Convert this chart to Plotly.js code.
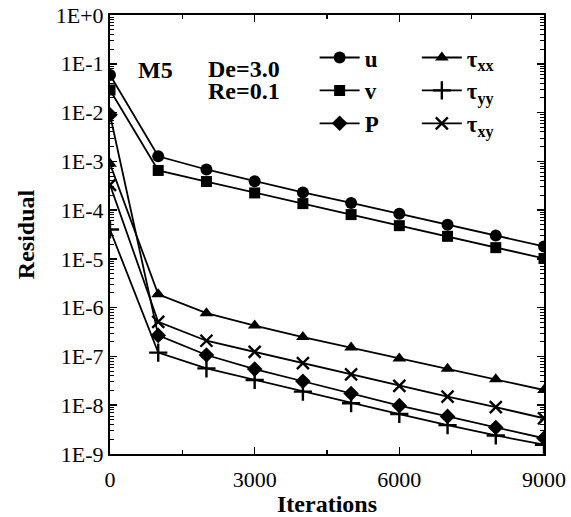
<!DOCTYPE html>
<html>
<head>
<meta charset="utf-8">
<script src="https://cdn.plot.ly/plotly-3.0.1.min.js"></script>
<style>html,body{margin:0;padding:0;background:#fff;}#chart{width:571px;height:517px;}</style>
</head>
<body>
<div id="chart"></div>
<script>
const iterations = [0, 1000, 2000, 3000, 4000, 5000, 6000, 7000, 8000, 9000];
const resU   = [5.9e-2, 1.27e-3, 6.8e-4, 3.9e-4, 2.3e-4, 1.4e-4, 8.4e-5, 5.0e-5, 3.0e-5, 1.8e-5];
const resV   = [2.9e-2, 6.5e-4, 3.85e-4, 2.25e-4, 1.36e-4, 8.1e-5, 4.8e-5, 2.9e-5, 1.7e-5, 1.02e-5];
const resP   = [9.0e-3, 2.7e-7, 1.07e-7, 5.5e-8, 3.1e-8, 1.74e-8, 9.8e-9, 5.9e-9, 3.5e-9, 2.1e-9];
const resTxx = [8.9e-4, 1.88e-6, 7.7e-7, 4.3e-7, 2.5e-7, 1.52e-7, 9.1e-8, 5.6e-8, 3.4e-8, 2.05e-8];
const resTyy = [4.0e-5, 1.2e-7, 5.7e-8, 3.3e-8, 1.9e-8, 1.1e-8, 6.6e-9, 3.9e-9, 2.4e-9, 1.55e-9];
const resTxy = [3.3e-4, 5.1e-7, 2.1e-7, 1.24e-7, 7.3e-8, 4.3e-8, 2.5e-8, 1.5e-8, 9.1e-9, 5.4e-9];

const seriesNames = ['u', 'v', 'P', 'τ<sub>xx</sub>', 'τ<sub>yy</sub>', 'τ<sub>xy</sub>'];
const yTickVals = [1, 1e-1, 1e-2, 1e-3, 1e-4, 1e-5, 1e-6, 1e-7, 1e-8, 1e-9];
const yTickText = ['1E+0', '1E-1', '1E-2', '1E-3', '1E-4', '1E-5', '1E-6', '1E-7', '1E-8', '1E-9'];
const xTickVals = [0, 3000, 6000, 9000];
const xTickText = ['0', '3000', '6000', '9000'];
const annoTexts = ['M5', 'De=3.0', 'Re=0.1'];

const serif = 'Liberation Serif, Times New Roman, serif';
const seriesY = [resU, resV, resP, resTxx, resTyy, resTxy];
const symbols = ['circle', 'square', 'diamond', 'triangle-up', 'cross-thin', 'x-thin'];
const sizes = [12, 11, 12, 12, 13, 12];
const legends = ['legend', 'legend', 'legend', 'legend2', 'legend2', 'legend2'];

const traces = seriesY.map((ys, i) => ({
  x: iterations, y: ys, name: seriesNames[i], type: 'scatter', mode: 'lines+markers',
  line: {color: '#000', width: 1.8},
  marker: {symbol: symbols[i], size: sizes[i], color: '#000', line: {color: '#000', width: (i >= 4 ? 2.4 : 0)}},
  legend: legends[i], legendgroup: 'g' + i
}));

// minor log ticks (style only)
const minorVals = [];
for (let d = -9; d < 0; d++) for (let m = 2; m <= 9; m++) minorVals.push(m * Math.pow(10, d));

const legendStyle = {
  yanchor: 'top', xanchor: 'left',
  bgcolor: 'rgba(0,0,0,0)', borderwidth: 0, itemwidth: 40,
  font: {family: serif, size: 23, color: '#000', weight: 'bold'},
  tracegroupgap: 0, traceorder: 'normal'
};

const layout = {
  width: 571, height: 517,
  margin: {l: 110, r: 27, t: 15, b: 63},
  paper_bgcolor: '#fff', plot_bgcolor: '#fff',
  font: {family: serif, color: '#000', size: 22},
  showlegend: true,
  xaxis: {
    range: [0, 9000], tickmode: 'array', tickvals: xTickVals, ticktext: xTickText,
    ticks: 'inside', ticklen: 7, tickwidth: 1.5, tickcolor: '#000',
    minor: {tickmode: 'linear', tick0: 0, dtick: 1500, ticks: 'inside', ticklen: 4, tickwidth: 1.5, tickcolor: '#000', showgrid: false},
    showline: true, linewidth: 2, linecolor: '#000', mirror: 'allticks',
    showgrid: false, zeroline: false,
    ticklabelstandoff: 5,
    tickfont: {family: serif, size: 22, color: '#000'},
    title: {text: '<b>Iterations</b>', font: {family: serif, size: 24, color: '#000'}, standoff: 11},
    automargin: false
  },
  yaxis: {
    type: 'log', range: [-9, 0], tickmode: 'array', tickvals: yTickVals, ticktext: yTickText,
    ticks: 'inside', ticklen: 7, tickwidth: 1.5, tickcolor: '#000',
    minor: {tickmode: 'array', tickvals: minorVals, ticks: 'inside', ticklen: 4, tickwidth: 1, tickcolor: '#000', showgrid: false},
    showline: true, linewidth: 2, linecolor: '#000', mirror: 'allticks',
    showgrid: false, zeroline: false,
    tickfont: {family: serif, size: 22, color: '#000'},
    title: {text: '<b>Residual</b>', font: {family: serif, size: 24, color: '#000'}, standoff: 14},
    automargin: false
  },
  legend: Object.assign({x: 0.4715, y: 0.952}, legendStyle),
  legend2: Object.assign({x: 0.707, y: 0.952}, legendStyle),
  annotations: [
    {text: '<b>' + annoTexts[0] + '</b>', xref: 'paper', yref: 'paper', x: 0.105, y: 0.875, showarrow: false, xanchor: 'center', yanchor: 'middle', font: {family: serif, size: 24, color: '#000'}},
    {text: '<b>' + annoTexts[1] + '</b>', xref: 'paper', yref: 'paper', x: 0.222, y: 0.878, showarrow: false, xanchor: 'left', yanchor: 'middle', font: {family: serif, size: 24, color: '#000'}},
    {text: '<b>' + annoTexts[2] + '</b>', xref: 'paper', yref: 'paper', x: 0.222, y: 0.826, showarrow: false, xanchor: 'left', yanchor: 'middle', font: {family: serif, size: 24, color: '#000'}}
  ]
};

Plotly.newPlot('chart', traces, layout, {staticPlot: true, displayModeBar: false});
</script>
</body>
</html>
